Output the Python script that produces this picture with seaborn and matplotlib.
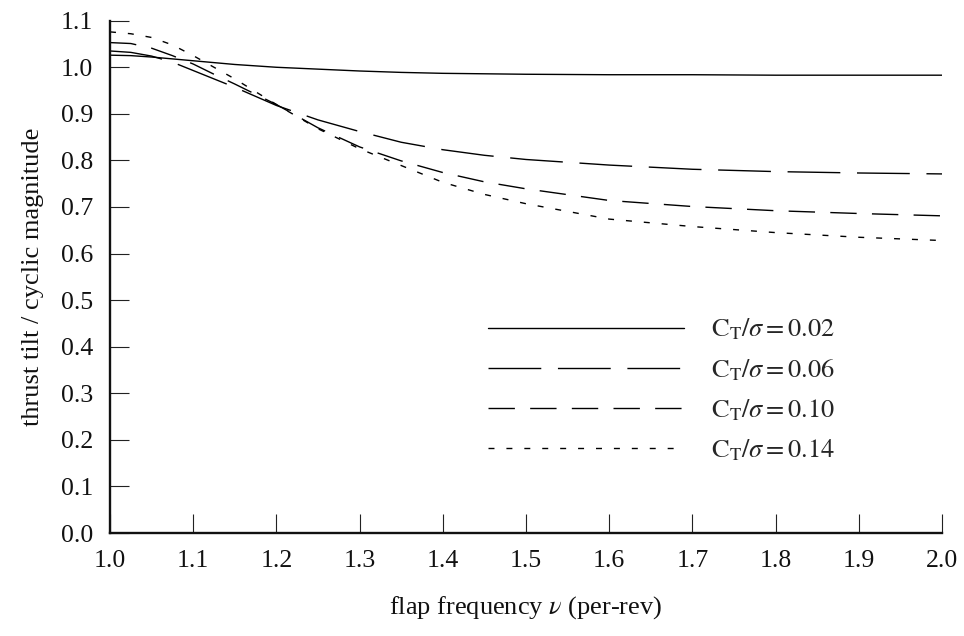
import numpy as np
import pandas as pd
import matplotlib
matplotlib.use("Agg")
import matplotlib.pyplot as plt
import seaborn as sns

# ---- data ----
nu = [1.0, 1.025, 1.05, 1.075, 1.1, 1.125, 1.15, 1.2, 1.25, 1.3, 1.35, 1.4, 1.45,
      1.5, 1.6, 1.7, 1.8, 1.9, 2.0]
ct_002 = [1.026, 1.025, 1.022, 1.018, 1.014, 1.010, 1.006, 1.000, 0.996, 0.992,
          0.989, 0.987, 0.986, 0.985, 0.984, 0.984, 0.983, 0.983, 0.983]
ct_006 = [1.035, 1.032, 1.024, 1.011, 0.993, 0.975, 0.957, 0.918, 0.887, 0.862,
          0.839, 0.823, 0.811, 0.802, 0.790, 0.781, 0.776, 0.773, 0.771]
ct_010 = [1.053, 1.051, 1.041, 1.025, 1.007, 0.985, 0.964, 0.920, 0.870, 0.829,
          0.799, 0.774, 0.754, 0.739, 0.714, 0.701, 0.692, 0.686, 0.681]
ct_014 = [1.076, 1.072, 1.064, 1.048, 1.025, 1.000, 0.975, 0.920, 0.868, 0.825,
          0.789, 0.753, 0.727, 0.707, 0.674, 0.658, 0.645, 0.635, 0.628]
labels = [r"$\mathrm{C_T}/\sigma = 0.02$", r"$\mathrm{C_T}/\sigma = 0.06$",
          r"$\mathrm{C_T}/\sigma = 0.10$", r"$\mathrm{C_T}/\sigma = 0.14$"]
series = [ct_002, ct_006, ct_010, ct_014]
xticks = [1.0, 1.1, 1.2, 1.3, 1.4, 1.5, 1.6, 1.7, 1.8, 1.9, 2.0]
yticks = [0.0, 0.1, 0.2, 0.3, 0.4, 0.5, 0.6, 0.7, 0.8, 0.9, 1.0, 1.1]

df = pd.DataFrame({
    "nu": nu * len(series),
    "val": [v for s in series for v in s],
    "case": [lab for lab in labels for _ in nu],
})

sns.set_theme(style="ticks")
plt.rcParams["font.family"] = ["Liberation Serif", "DejaVu Serif"]
plt.rcParams["mathtext.fontset"] = "stix"

fig = plt.figure(figsize=(9.64, 6.36), dpi=100)
ax = fig.add_axes([110 / 964, 1 - 533 / 636, 832 / 964, (533 - 20.7) / 636])

sns.lineplot(data=df, x="nu", y="val", style="case", style_order=labels,
             dashes=["", (38, 12), (19, 11), (4.3, 8.6)], color="black",
             linewidth=1.0, ax=ax, legend=True)

handles, labs = ax.get_legend_handles_labels()
leg = ax.legend(handles, labs, loc="upper left", bbox_to_anchor=(0.454, 0.422),
                frameon=False, fontsize=19, handlelength=7.45, handletextpad=1.0,
                labelspacing=0.55, borderpad=0, borderaxespad=0)
for h in leg.get_lines():
    h.set_color("black")
    h.set_linewidth(1.0)

ax.set_xlim(1.0, 2.0)
ax.set_ylim(0.0, 1.1)
ax.set_xticks(xticks)
ax.set_yticks(yticks)
ax.set_xticklabels([f"{t:.1f}" for t in xticks])
ax.set_yticklabels([f"{t:.1f}" for t in yticks])
ax.tick_params(direction="in", length=13.5, width=0.8, color="#222222",
               labelsize=18.5, pad=12, labelcolor="#111111")
for side in ["top", "right"]:
    ax.spines[side].set_visible(False)
for side in ["left", "bottom"]:
    ax.spines[side].set_linewidth(1.7)
    ax.spines[side].set_color("#111111")

ax.set_xlabel(r"flap frequency $\nu$ (per-rev)", fontsize=19, labelpad=16, color="#111111")
ax.set_ylabel("thrust tilt / cyclic magnitude", fontsize=19, labelpad=12, color="#111111")

fig.savefig("out.png", dpi=100)
